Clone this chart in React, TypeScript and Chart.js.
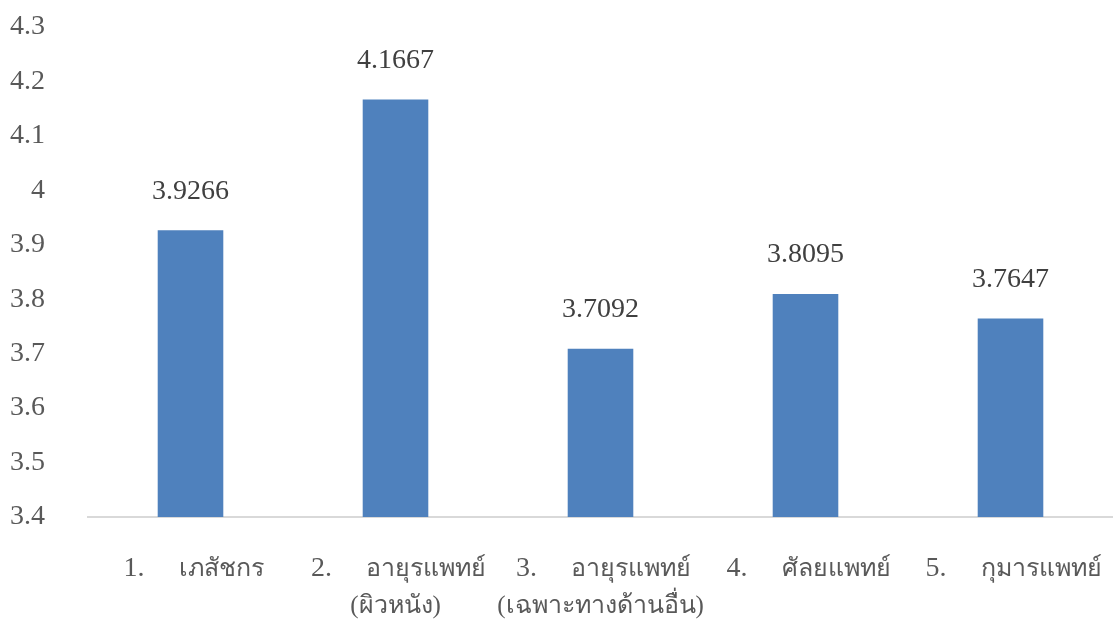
import React, { useEffect, useRef } from "react";
import { Chart, registerables } from "chart.js";

Chart.register(...registerables);

// Average score by specialty group
const categoryNumbers = ["1.", "2.", "3.", "4.", "5."];
const categoryNames = ["เภสัชกร", "อายุรแพทย์", "อายุรแพทย์", "ศัลยแพทย์", "กุมารแพทย์"];
const categorySubNames = ["", "(ผิวหนัง)", "(เฉพาะทางด้านอื่น)", "", ""];
const meanScores = [3.9266, 4.1667, 3.7092, 3.8095, 3.7647];
const yMin = 3.4;
const yMax = 4.3;
const yStep = 0.1;

const FONT_FAMILY = "'Liberation Serif', 'Times New Roman', serif";
const BAR_COLOR = "#4F81BD";
const TICK_COLOR = "#595959";
const VALUE_COLOR = "#404040";

const formatTick = (v: number) => String(Math.round(v * 10) / 10);

const textPlugin = {
  id: "textLabels",
  afterDatasetsDraw(chart: any) {
    const { ctx } = chart;
    const xScale = chart.scales.x;
    const yScale = chart.scales.y;
    const meta = chart.getDatasetMeta(0);
    ctx.save();
    ctx.textBaseline = "middle";

    // y-axis tick labels, right-aligned left of the plot
    ctx.font = `28px ${FONT_FAMILY}`;
    ctx.textAlign = "right";
    ctx.fillStyle = TICK_COLOR;
    yScale.ticks.forEach((t: any) => {
      ctx.fillText(formatTick(t.value), xScale.left - 43, yScale.getPixelForValue(t.value));
    });

    // value labels above bars
    ctx.textAlign = "center";
    ctx.fillStyle = VALUE_COLOR;
    meta.data.forEach((bar: any, i: number) => {
      ctx.fillText(meanScores[i].toFixed(4), bar.x, bar.y - 39);
    });

    // category labels below the axis: number, gap, name (centered as a group)
    ctx.fillStyle = TICK_COLOR;
    const base = yScale.getPixelForValue(yMin);
    const numFont = `28px ${FONT_FAMILY}`;
    const nameFont = `25px ${FONT_FAMILY}`;
    const gap = 34;
    categoryNames.forEach((name, i) => {
      const cx = xScale.getPixelForValue(i);
      ctx.font = numFont;
      const wNum = ctx.measureText(categoryNumbers[i]).width;
      ctx.font = nameFont;
      const wName = ctx.measureText(name).width;
      const start = cx + 3 - (wNum + gap + wName) / 2;
      ctx.textAlign = "left";
      ctx.font = numFont;
      ctx.fillText(categoryNumbers[i], start, base + 52);
      ctx.font = nameFont;
      ctx.fillText(name, start + wNum + gap, base + 52);
      if (categorySubNames[i]) {
        ctx.textAlign = "center";
        ctx.fillText(categorySubNames[i], cx, base + 89);
      }
    });
    ctx.restore();
  },
};

export default function App() {
  const canvasRef = useRef<HTMLCanvasElement | null>(null);

  useEffect(() => {
    if (!canvasRef.current) return;
    const chart = new Chart(canvasRef.current, {
      type: "bar",
      data: {
        labels: categoryNames,
        datasets: [
          {
            data: meanScores,
            backgroundColor: BAR_COLOR,
            borderWidth: 0,
            barPercentage: 0.32,
            categoryPercentage: 1,
          },
        ],
      },
      options: {
        animation: false,
        responsive: true,
        maintainAspectRatio: false,
        layout: { padding: { top: 27, right: 0, bottom: 0, left: 0 } },
        plugins: {
          legend: { display: false },
          tooltip: { enabled: false },
        },
        scales: {
          x: {
            grid: { display: false },
            border: { display: true, color: "#D9D9D9", width: 2 },
            ticks: { display: false },
            afterFit(scale: any) {
              scale.height = 114;
            },
          },
          y: {
            min: yMin,
            max: yMax,
            grid: { display: false, drawTicks: false },
            border: { display: false },
            ticks: { stepSize: yStep, display: false },
            afterFit(scale: any) {
              scale.width = 88;
            },
          },
        },
      },
      plugins: [textPlugin],
    });
    return () => chart.destroy();
  }, []);

  return (
    <div style={{ position: "absolute", left: 0, top: 0, width: 1113, height: 631, background: "#fff" }}>
      <canvas ref={canvasRef} />
    </div>
  );
}
